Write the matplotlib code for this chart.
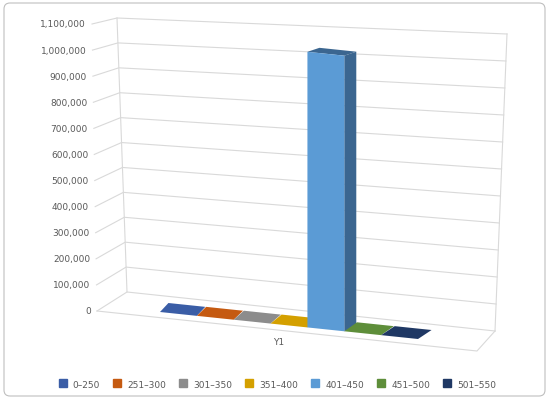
import numpy as np
import matplotlib.pyplot as plt
from matplotlib.patches import Polygon, FancyBboxPatch
from matplotlib.lines import Line2D

# data
categories = ['0–250', '251–300', '301–350', '351–400', '401–450', '451–500', '501–550']
values = [0, 0, 0, 0, 995000, 0, 0]
colors = ['#3A5DA6', '#C55A11', '#8C8C8C', '#D4A000', '#5B9BD5', '#5E8E3A', '#1F3864']
sides = ['#2A4680', '#9A4510', '#6E6E6E', '#A88000', '#3B6690', '#4A7230', '#152848']
ticks = np.arange(0, 1100001, 100000)
vmax = 1100000

fig = plt.figure(figsize=(5.5, 4.02), dpi=100)
ax = fig.add_axes([0, 0, 1, 1])
ax.set_xlim(0, 550)
ax.set_ylim(402, 0)
ax.axis('off')

def lerp(a, b, t):
    return (a[0] + (b[0] - a[0]) * t, a[1] + (b[1] - a[1]) * t)

# back wall corners (pixel space), left stub and floor
wall_tl, wall_bl = (117, 19), (127, 293)
wall_tr, wall_br = (507, 35), (495, 332)
stub_t, stub_b = (92, 25), (97, 312)
floor_r = (477, 352)
grid = '#D9D9D9'

for v in ticks:
    t = v / vmax
    l = lerp(wall_bl, wall_tl, t)
    r = lerp(wall_br, wall_tr, t)
    s = lerp(stub_b, stub_t, t)
    ax.plot([s[0], l[0], r[0]], [s[1], l[1], r[1]], color=grid, lw=0.8)
    ax.text(s[0] - 6, s[1], f'{v:,}', ha='right', va='center', fontsize=6.5, color='#595959')

ax.plot([wall_bl[0], wall_tl[0]], [wall_bl[1], wall_tl[1]], color=grid, lw=0.8)
ax.plot([wall_br[0], wall_tr[0]], [wall_br[1], wall_tr[1]], color=grid, lw=0.8)
ax.plot([stub_b[0], floor_r[0], wall_br[0]], [stub_b[1], floor_r[1], wall_br[1]], color=grid, lw=0.8)

# bars along a front line
front_l, front_r = (160, 313), (418, 340)
n = len(values)
scale = 277 / 1000000
for i, (v, c, sc) in enumerate(zip(values, colors, sides)):
    a = lerp(front_l, front_r, i / n)
    b = lerp(front_l, front_r, (i + 1) / n)
    u = (i + 0.5) / n
    h = max(v * scale, 0)
    if h > 0:
        dx, dy = 12, -4
    else:
        dx, dy = 8 + 6 * u, -9
    p1, p2 = (a[0], a[1] - h), (b[0], b[1] - h)
    ax.add_patch(Polygon([p1, p2, (p2[0] + dx, p2[1] + dy), (p1[0] + dx, p1[1] + dy)],
                         closed=True, fc=sc if h > 0 else c, ec='none', zorder=3 + i))
    if h > 0:
        ax.add_patch(Polygon([b, p2, (p2[0] + dx, p2[1] + dy), (b[0] + dx, b[1] + dy)],
                             closed=True, fc=sc, ec='none', zorder=3 + i))
        ax.add_patch(Polygon([a, b, p2, p1], closed=True, fc=c, ec='none', zorder=3 + i))

ax.text(279, 343, 'Y1', ha='center', va='center', fontsize=6.5, color='#595959')

handles = [Line2D([], [], marker='s', ls='none', color=c, markersize=6) for c in colors]
fig.legend(handles, categories, loc='center', bbox_to_anchor=(0.5, 0.042), ncol=7,
           frameon=False, fontsize=6.5, handletextpad=0.1, columnspacing=0.9,
           labelcolor='#595959')

ax.add_patch(FancyBboxPatch((4, 4), 541, 393, boxstyle='round,pad=0,rounding_size=6',
                            fc='none', ec='#BFBFBF', lw=0.8))

fig.savefig('out.png', dpi=100)
